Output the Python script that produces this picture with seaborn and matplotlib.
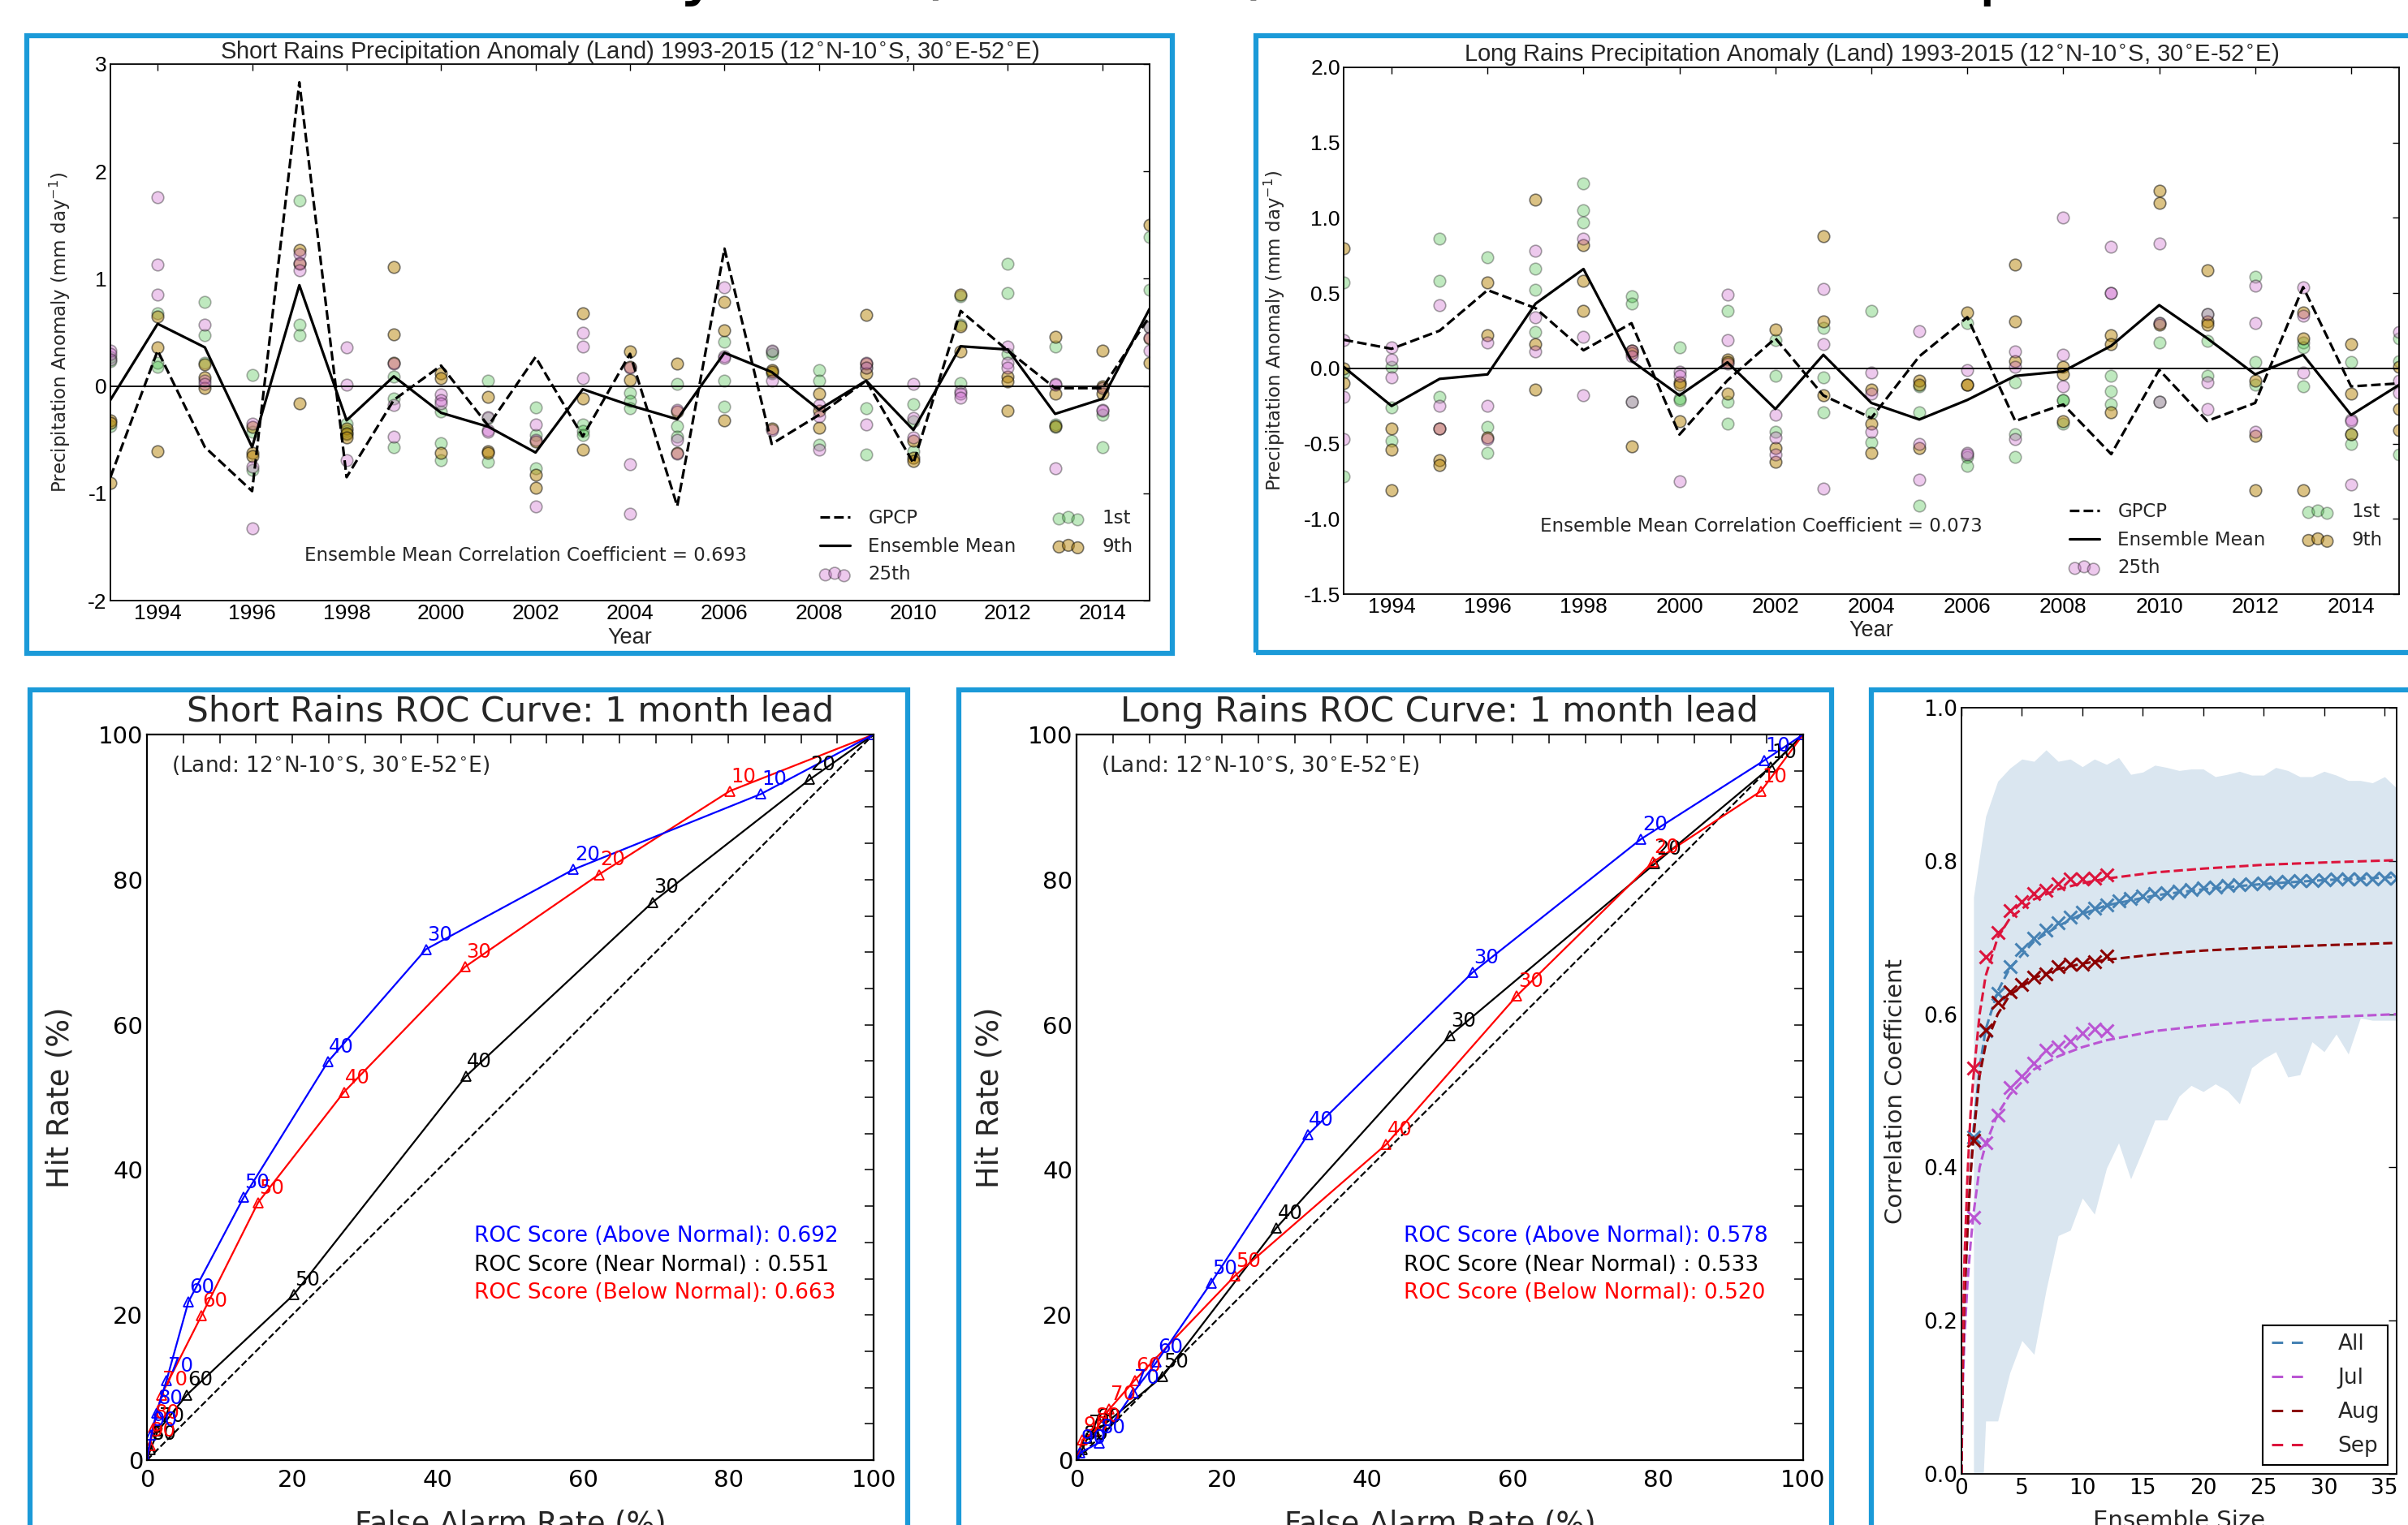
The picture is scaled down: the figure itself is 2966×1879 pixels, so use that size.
import numpy as np
import matplotlib
matplotlib.use("Agg")
import matplotlib.pyplot as plt
import seaborn as sns
from matplotlib.lines import Line2D
from matplotlib.patches import Rectangle
from matplotlib.ticker import MultipleLocator, FormatStrFormatter

# ---------------------------------------------------------------- data
YEARS = list(range(1993, 2016))

SR_GPCP = [-0.85, 0.33, -0.57, -0.98, 2.83, -0.85, -0.13, 0.19, -0.37, 0.27, -0.47, 0.30,
           -1.12, 1.28, -0.54, -0.27, 0.05, -0.72, 0.70, 0.33, -0.02, -0.02, 0.65]
SR_MEAN = [-0.13, 0.58, 0.36, -0.57, 0.94, -0.32, 0.09, -0.25, -0.38, -0.62, -0.03, -0.18,
           -0.31, 0.31, 0.13, -0.22, 0.05, -0.41, 0.37, 0.34, -0.26, -0.12, 0.72]
SR_1ST = [[0.27, 0.23, -0.37], [0.68, 0.22, 0.18], [0.78, 0.47, 0.22], [0.10, -0.43, -0.78],
          [1.73, 0.57, 0.47], [-0.35, -0.42, -0.45], [0.09, -0.12, -0.57], [-0.24, -0.53, -0.69],
          [0.05, -0.30, -0.71], [-0.20, -0.46, -0.77], [-0.36, -0.42, -0.46], [-0.06, -0.14, -0.21],
          [0.02, -0.37, -0.47], [0.41, 0.05, -0.19], [0.32, 0.30, 0.12], [0.15, 0.05, -0.55],
          [0.17, -0.21, -0.64], [-0.17, -0.33, -0.61], [0.84, 0.57, 0.03], [1.14, 0.87, 0.30],
          [0.37, -0.36, -0.38], [-0.02, -0.27, -0.57], [1.39, 0.90, 0.55]]
SR_9TH = [[-0.32, -0.34, -0.90], [0.65, 0.36, -0.61], [0.20, 0.08, -0.02], [-0.38, -0.62, -0.65],
          [1.27, 1.14, -0.16], [-0.40, -0.44, -0.48], [1.11, 0.48, 0.22], [0.12, 0.07, -0.62],
          [-0.10, -0.61, -0.62], [-0.52, -0.83, -0.95], [0.68, -0.12, -0.59], [0.32, 0.18, 0.06],
          [0.21, -0.24, -0.62], [0.78, 0.52, -0.32], [0.15, 0.13, -0.40], [-0.07, -0.23, -0.39],
          [0.66, 0.21, 0.12], [-0.51, -0.67, -0.70], [0.85, 0.56, 0.32], [0.09, 0.04, -0.23],
          [0.46, -0.07, -0.37], [0.33, 0.00, -0.07], [1.50, 0.44, 0.22]]
SR_25TH = [[0.33, 0.30, 0.25], [1.76, 1.13, 0.85], [0.57, 0.05, 0.02], [-0.35, -1.33, -0.75],
           [1.23, 1.15, 1.08], [0.36, 0.01, -0.69], [0.21, -0.18, -0.47], [-0.08, -0.13, -0.16],
           [-0.29, -0.41, -0.43], [-0.36, -0.50, -1.12], [0.50, 0.37, 0.07], [0.17, -0.73, -1.19],
           [-0.22, -0.50, -0.63], [0.92, 0.28, 0.26], [0.33, 0.05, -0.41], [-0.18, -0.28, -0.59],
           [0.22, 0.17, -0.36], [0.02, -0.30, -0.48], [-0.05, -0.07, -0.11], [0.37, 0.22, 0.17],
           [0.02, 0.01, -0.77], [-0.02, -0.22, -0.23], [0.55, 0.33, 0.45]]

LR_GPCP = [0.19, 0.13, 0.25, 0.52, 0.40, 0.12, 0.30, -0.44, -0.08, 0.20, -0.18, -0.33,
           0.08, 0.34, -0.35, -0.24, -0.57, -0.01, -0.35, -0.23, 0.54, -0.12, -0.10]
LR_MEAN = [0.01, -0.25, -0.07, -0.04, 0.43, 0.66, 0.05, -0.18, 0.04, -0.27, 0.09, -0.23,
           -0.34, -0.21, -0.05, -0.02, 0.15, 0.42, 0.20, -0.04, 0.09, -0.31, -0.11]
LR_1ST = [[0.57, -0.03, -0.72], [0.01, -0.26, -0.48], [0.86, 0.58, -0.19], [0.74, -0.39, -0.56],
          [0.66, 0.52, 0.24], [1.23, 1.05, 0.97], [0.48, 0.43, -0.22], [0.14, -0.20, -0.21],
          [0.38, -0.22, -0.37], [0.19, -0.05, -0.42], [0.27, -0.06, -0.29], [0.38, -0.30, -0.49],
          [-0.12, -0.29, -0.91], [0.30, -0.59, -0.65], [-0.09, -0.44, -0.59], [-0.21, -0.21, -0.37],
          [-0.05, -0.15, -0.24], [0.30, 0.17, -0.22], [0.36, 0.18, -0.05], [0.61, 0.04, -0.11],
          [0.17, 0.14, -0.12], [0.04, -0.44, -0.50], [0.20, 0.05, -0.57]]
LR_9TH = [[0.80, 0.00, -0.10], [-0.40, -0.54, -0.81], [-0.40, -0.61, -0.64], [0.57, 0.22, -0.46],
          [1.12, 0.16, -0.14], [0.82, 0.58, 0.38], [0.12, 0.10, -0.52], [-0.09, -0.11, -0.35],
          [0.06, 0.04, -0.17], [0.26, -0.53, -0.62], [0.88, 0.31, -0.18], [-0.14, -0.37, -0.56],
          [-0.08, -0.11, -0.53], [0.37, -0.11, -0.11], [0.69, 0.31, 0.05], [0.01, -0.04, -0.35],
          [0.22, 0.16, -0.29], [1.18, 1.10, 0.29], [0.65, 0.31, 0.29], [-0.08, -0.45, -0.81],
          [0.37, 0.20, -0.81], [0.16, -0.17, -0.44], [0.01, -0.27, -0.41]]
LR_25TH = [[0.19, -0.19, -0.47], [0.14, 0.06, -0.06], [0.42, -0.25, -0.40], [0.17, -0.25, -0.47],
           [0.78, 0.34, 0.11], [0.86, 0.21, -0.18], [0.12, 0.08, -0.22], [-0.02, -0.05, -0.75],
           [0.49, 0.19, 0.03], [-0.31, -0.46, -0.57], [0.53, 0.16, -0.80], [-0.03, -0.17, -0.42],
           [0.25, -0.50, -0.74], [-0.01, -0.56, -0.57], [0.11, 0.01, -0.47], [1.00, 0.09, -0.12],
           [0.81, 0.50, 0.50], [0.83, 0.30, -0.22], [0.36, -0.09, -0.27], [0.55, 0.30, -0.42],
           [0.54, 0.35, -0.03], [-0.34, -0.35, -0.77], [0.24, -0.08, -0.16]]

# ROC curves (false alarm rate %, hit rate %, probability-threshold labels)
ROC_S_ABOVE_FA = [0, 0.6, 1.3, 2.7, 5.7, 13.3, 24.9, 38.4, 58.7, 84.5, 100]
ROC_S_ABOVE_HR = [0, 3.5, 6.5, 11.0, 21.8, 36.2, 54.9, 70.4, 81.4, 91.8, 100]
ROC_S_BELOW_FA = [0, 0.4, 0.9, 2.0, 7.5, 15.3, 27.1, 43.8, 62.2, 80.2, 100]
ROC_S_BELOW_HR = [0, 2.0, 4.5, 9.0, 19.9, 35.5, 50.7, 68.0, 80.7, 92.2, 100]
ROC_S_NEAR_FA = [0, 0.5, 1.5, 5.5, 20.2, 43.9, 69.6, 91.2, 100]
ROC_S_NEAR_HR = [0, 1.5, 4.0, 9.0, 22.8, 52.9, 76.9, 93.8, 100]
ROC_L_ABOVE_FA = [0, 0.5, 3.1, 7.8, 11.0, 18.5, 31.8, 54.5, 77.7, 94.6, 100]
ROC_L_ABOVE_HR = [0, 1.0, 2.4, 9.3, 13.5, 24.4, 44.8, 67.2, 85.6, 96.4, 100]
ROC_L_BELOW_FA = [0, 0.8, 2.5, 4.5, 8.0, 21.8, 42.6, 60.6, 79.3, 94.2, 100]
ROC_L_BELOW_HR = [0, 2.8, 4.0, 7.0, 11.0, 25.4, 43.5, 64.0, 82.4, 92.2, 100]
ROC_L_NEAR_FA = [0, 0.8, 1.5, 2.6, 11.8, 27.5, 51.4, 79.6, 95.5, 100]
ROC_L_NEAR_HR = [0, 1.5, 3.0, 3.9, 11.5, 32.0, 58.5, 82.2, 95.5, 100]
LAB_10 = ['', '90', '80', '70', '60', '50', '40', '30', '20', '10', '']
LAB_S_NEAR = ['', '80', '70', '60', '50', '40', '30', '20', '']
LAB_L_NEAR = ['', '80', '70', '60', '50', '40', '30', '20', '10', '']
ROC_S_SCORES = ['ROC Score (Above Normal): 0.692', 'ROC Score (Near Normal) : 0.551',
                'ROC Score (Below Normal): 0.663']
ROC_L_SCORES = ['ROC Score (Above Normal): 0.578', 'ROC Score (Near Normal) : 0.533',
                'ROC Score (Below Normal): 0.520']

# Correlation vs ensemble size
ENS_N_ALL = list(range(1, 37))
ENS_ALL = [0.44, 0.578, 0.627, 0.662, 0.684, 0.699, 0.71, 0.719, 0.727, 0.733, 0.738, 0.743,
           0.748, 0.751, 0.754, 0.757, 0.759, 0.761, 0.763, 0.765, 0.766, 0.768, 0.769, 0.77,
           0.771, 0.772, 0.773, 0.774, 0.774, 0.775, 0.776, 0.776, 0.777, 0.777, 0.778, 0.778]
ENS_N_MON = list(range(1, 13))
ENS_JUL = [0.335, 0.432, 0.468, 0.504, 0.519, 0.536, 0.553, 0.557, 0.565, 0.575, 0.581, 0.578]
ENS_AUG = [0.435, 0.579, 0.615, 0.629, 0.639, 0.648, 0.653, 0.662, 0.665, 0.665, 0.668, 0.676]
ENS_SEP = [0.53, 0.675, 0.707, 0.735, 0.747, 0.757, 0.762, 0.77, 0.776, 0.777, 0.778, 0.782]
FIT_N = [0, 0.1, 0.25, 0.5, 0.75, 1, 1.5, 2, 3, 4, 6, 8, 10, 12, 16, 20, 25, 30, 36]
FIT_ALL = [0, 0.14, 0.23, 0.32, 0.39, 0.45, 0.53, 0.58, 0.63, 0.66, 0.695, 0.715, 0.731, 0.742,
           0.755, 0.763, 0.77, 0.775, 0.779]
FIT_JUL = [0, 0.11, 0.18, 0.25, 0.30, 0.34, 0.40, 0.43, 0.47, 0.495, 0.528, 0.545, 0.557, 0.566,
           0.578, 0.585, 0.592, 0.596, 0.60]
FIT_AUG = [0, 0.14, 0.23, 0.32, 0.39, 0.44, 0.52, 0.56, 0.60, 0.625, 0.647, 0.659, 0.666, 0.671,
           0.678, 0.683, 0.687, 0.69, 0.693]
FIT_SEP = [0, 0.17, 0.28, 0.39, 0.47, 0.52, 0.60, 0.65, 0.70, 0.725, 0.75, 0.763, 0.771, 0.777,
           0.785, 0.79, 0.795, 0.798, 0.801]
BAND_HI = [0.753, 0.858, 0.904, 0.921, 0.933, 0.93, 0.945, 0.93, 0.933, 0.923, 0.933, 0.926,
           0.935, 0.913, 0.916, 0.925, 0.922, 0.918, 0.92, 0.92, 0.91, 0.913, 0.917, 0.912,
           0.912, 0.922, 0.918, 0.91, 0.91, 0.917, 0.912, 0.905, 0.905, 0.902, 0.91, 0.895]
BAND_LO = [-0.3, 0.069, 0.069, 0.132, 0.174, 0.156, 0.24, 0.311, 0.318, 0.36, 0.339, 0.399,
           0.432, 0.385, 0.423, 0.462, 0.462, 0.493, 0.507, 0.499, 0.509, 0.5, 0.483, 0.53,
           0.542, 0.551, 0.518, 0.521, 0.564, 0.551, 0.574, 0.548, 0.595, 0.592, 0.592, 0.592]

# ---------------------------------------------------------------- style
W, H, DPI = 2966, 1879, 100
sns.set_theme(style="white")
plt.rcParams['font.family'] = ['DejaVu Sans']
plt.rcParams['axes.unicode_minus'] = True
NARROW = ['Liberation Sans', 'DejaVu Sans']
FRAME = '#1b9ad8'
GREEN, BROWN, PURPLE = '#2eb82e', '#b8860b', '#cc66cc'

fig = plt.figure(figsize=(W / DPI, H / DPI), dpi=DPI)
fig.patch.set_facecolor('white')


def px_axes(l, r, t, b):
    return fig.add_axes([l / W, 1 - b / H, (r - l) / W, (b - t) / H])


def frame(l, r, t, b):
    fig.add_artist(Rectangle((l / W, 1 - b / H), (r - l) / W, (b - t) / H,
                             transform=fig.transFigure, fill=False, ec=FRAME,
                             lw=4.5, clip_on=False, zorder=0))


def spines(ax, lw):
    for s in ax.spines.values():
        s.set_color('black')
        s.set_linewidth(lw)


# big (cropped) headline
fig.text(276 / W, 1 + 11 / H, 'Rain Anomaly Skill (GloSea5), ROC Curves and Spread',
         fontsize=64, ha='left', va='baseline', color='black')

frame(33, 1444, 44, 805)
frame(1547, 3000, 44, 804)
frame(37, 1118, 850, 1920)
frame(1181, 2256, 850, 1920)
frame(2305, 3000, 850, 1920)


# ---------------------------------------------------------------- anomaly panels
def anomaly_panel(ax, gpcp, mean, m1, m9, m25, ylim, yticks, yfmt, title, title_dy,
                  corr, corr_xy, ylab_x, xlab_y):
    handles = {}
    for vals, col, alpha, key in [(m1, GREEN, 0.3, '1st'), (m9, BROWN, 0.5, '9th'),
                                  (m25, PURPLE, 0.35, '25th')]:
        xs = np.repeat(YEARS, 3)
        ys = np.asarray(vals).ravel()
        sns.scatterplot(x=xs, y=ys, ax=ax, color=col, alpha=alpha, s=110,
                        edgecolor='black', linewidth=1.2, legend=False, zorder=1)
        handles[key] = ax.collections[-1]
    ax.axhline(0, color='black', lw=1.3, zorder=2)
    sns.lineplot(x=YEARS, y=gpcp, ax=ax, color='black', lw=2.3, linestyle='--',
                 dashes=(3.7, 1.9), legend=False, zorder=3)
    handles['GPCP'] = ax.lines[-1]
    sns.lineplot(x=YEARS, y=mean, ax=ax, color='black', lw=2.3, legend=False, zorder=3)
    handles['Ensemble Mean'] = ax.lines[-1]
    ax.set_xlim(1993, 2015)
    ax.set_ylim(*ylim)
    ax.set_xticks(list(range(1994, 2015, 2)))
    ax.set_yticks(yticks)
    ax.yaxis.set_major_formatter(FormatStrFormatter(yfmt))
    ax.tick_params(direction='in', top=True, right=True, length=6, width=1,
                   labelsize=19, pad=3, colors='black')
    for lbl in ax.get_xticklabels() + ax.get_yticklabels():
        lbl.set_family(NARROW)
    spines(ax, 1.3)
    ax.text(0.5, 1 + title_dy, title, transform=ax.transAxes, ha='center', va='center',
            fontsize=21, family=NARROW)
    ax.set_xlabel('Year', fontsize=19.5, family=NARROW)
    ax.xaxis.set_label_coords(0.5, xlab_y)
    ax.set_ylabel('Precipitation Anomaly (mm day$^{-1}$)', fontsize=16.5)
    ax.yaxis.set_label_coords(ylab_x, 0.5)
    ax.text(corr_xy[0], corr_xy[1], corr, fontsize=16.5, ha='left', va='center')
    order = ['GPCP', 'Ensemble Mean', '25th', '1st', '9th']
    ax.legend(handles=[handles[k] for k in order], labels=order, ncol=2, loc='lower right',
              frameon=False, fontsize=16.5, scatterpoints=3, handlelength=1.6,
              handletextpad=1.0, columnspacing=2.0, borderaxespad=0.5)


ax1 = px_axes(136, 1416, 79, 740)
anomaly_panel(ax1, SR_GPCP, SR_MEAN, SR_1ST, SR_9TH, SR_25TH, (-2, 3), [-2, -1, 0, 1, 2, 3], '%d',
              'Short Rains Precipitation Anomaly (Land) 1993-2015 (12$^{\\circ}$N-10$^{\\circ}$S, 30$^{\\circ}$E-52$^{\\circ}$E)',
              15 / 661, 'Ensemble Mean Correlation Coefficient = 0.693', (1997.1, -1.58),
              -0.037, -0.05)

ax2 = px_axes(1655, 2955, 83, 732)
anomaly_panel(ax2, LR_GPCP, LR_MEAN, LR_1ST, LR_9TH, LR_25TH, (-1.5, 2.0),
              [-1.5, -1.0, -0.5, 0.0, 0.5, 1.0, 1.5, 2.0], '%.1f',
              'Long Rains Precipitation Anomaly (Land) 1993-2015 (12$^{\\circ}$N-10$^{\\circ}$S, 30$^{\\circ}$E-52$^{\\circ}$E)',
              16 / 649, 'Ensemble Mean Correlation Coefficient = 0.073', (1997.1, -1.05),
              -0.054, -0.05)


# ---------------------------------------------------------------- ROC panels
def roc_panel(ax, curves, title, scores):
    sns.lineplot(x=[0, 100], y=[0, 100], ax=ax, color='black', lw=1.6, linestyle='--',
                 dashes=(8, 5.5), legend=False)
    for fa, hr, labs, col in curves:
        sns.lineplot(x=fa, y=hr, ax=ax, color=col, lw=1.6, sort=False, estimator=None,
                     marker='^', markersize=9, markerfacecolor='none',
                     markeredgecolor=col, markeredgewidth=1.3, legend=False)
        for x, y, lab in zip(fa, hr, labs):
            if lab:
                ax.annotate(lab, (x, y), xytext=(1, 8), textcoords='offset points',
                            color=col, fontsize=17.5, ha='left', va='baseline')
    ax.set_xlim(0, 100)
    ax.set_ylim(0, 100)
    ax.set_xticks([0, 20, 40, 60, 80, 100])
    ax.set_yticks([0, 20, 40, 60, 80, 100])
    ax.xaxis.set_minor_locator(MultipleLocator(5))
    ax.yaxis.set_minor_locator(MultipleLocator(5))
    ax.tick_params(which='both', direction='in', top=True, right=True, length=8, width=1.1,
                   labelsize=21, colors='black')
    ax.tick_params(axis='x', pad=8)
    spines(ax, 1.6)
    ax.text(0.5, 1 + 28.5 / 894, title, transform=ax.transAxes, ha='center', va='center',
            fontsize=30.5)
    ax.set_xlabel('False Alarm Rate (%)', fontsize=26.5)
    ax.xaxis.set_label_coords(0.5, -0.068)
    ax.set_ylabel('Hit Rate (%)', fontsize=26.5)
    ax.yaxis.set_label_coords(-0.099, 0.5)
    ax.text(3.4, 95.8, '(Land: 12$^{\\circ}$N-10$^{\\circ}$S, 30$^{\\circ}$E-52$^{\\circ}$E)',
            fontsize=19, ha='left', va='center')
    for s, y, col in zip(scores, [30.9, 26.8, 23.0], ['blue', 'black', 'red']):
        ax.text(45.0, y, s, fontsize=19, ha='left', va='center', color=col)


ax3 = px_axes(181, 1076, 905, 1799)
roc_panel(ax3, [(ROC_S_NEAR_FA, ROC_S_NEAR_HR, LAB_S_NEAR, 'black'),
                (ROC_S_BELOW_FA, ROC_S_BELOW_HR, LAB_10, 'red'),
                (ROC_S_ABOVE_FA, ROC_S_ABOVE_HR, LAB_10, 'blue')],
          'Short Rains ROC Curve: 1 month lead', ROC_S_SCORES)

ax4 = px_axes(1326, 2221, 905, 1799)
roc_panel(ax4, [(ROC_L_NEAR_FA, ROC_L_NEAR_HR, LAB_L_NEAR, 'black'),
                (ROC_L_BELOW_FA, ROC_L_BELOW_HR, LAB_10, 'red'),
                (ROC_L_ABOVE_FA, ROC_L_ABOVE_HR, LAB_10, 'blue')],
          'Long Rains ROC Curve: 1 month lead', ROC_L_SCORES)

# ---------------------------------------------------------------- ensemble size panel
ax5 = px_axes(2416, 2952, 872, 1816)
ax5.fill_between(ENS_N_ALL, BAND_LO, BAND_HI, color='#4682b4', alpha=0.2, lw=0)
series = [('All', 'steelblue', FIT_ALL, ENS_N_ALL, ENS_ALL),
          ('Jul', 'mediumorchid', FIT_JUL, ENS_N_MON, ENS_JUL),
          ('Aug', 'darkred', FIT_AUG, ENS_N_MON, ENS_AUG),
          ('Sep', 'crimson', FIT_SEP, ENS_N_MON, ENS_SEP)]
leg_handles = []
for name, col, fit, nx, ny in series:
    sns.lineplot(x=FIT_N, y=fit, ax=ax5, color=col, lw=2.2, linestyle='--',
                 dashes=(4.5, 3.5), legend=False)
    leg_handles.append(Line2D([], [], color=col, lw=2.2, linestyle='--', dashes=(4.5, 3.5)))
    ax5.plot(nx, ny, linestyle='none', marker='x', markersize=12, markeredgewidth=2.2,
             color=col)
ax5.set_xlim(0, 36)
ax5.set_ylim(0, 1)
ax5.set_xticks([0, 5, 10, 15, 20, 25, 30, 35])
ax5.set_yticks([0.0, 0.2, 0.4, 0.6, 0.8, 1.0])
ax5.yaxis.set_major_formatter(FormatStrFormatter('%.1f'))
ax5.tick_params(direction='in', top=True, right=True, length=7, width=1, labelsize=19,
                colors='black')
spines(ax5, 1.3)
ax5.set_ylabel('Correlation Coefficient', fontsize=21)
ax5.yaxis.set_label_coords(-0.125, 0.5)
ax5.set_xlabel('Ensemble Size', fontsize=21)
ax5.xaxis.set_label_coords(0.5, -0.047)
lg = ax5.legend(handles=leg_handles, labels=['All', 'Jul', 'Aug', 'Sep'], loc='lower right',
                fontsize=19, handlelength=1.5, handletextpad=1.6, borderaxespad=0.4,
                fancybox=False, framealpha=1, edgecolor='black', labelspacing=0.6)
lg.get_frame().set_linewidth(1.5)

fig.savefig('out.png', dpi=DPI, facecolor='white')
